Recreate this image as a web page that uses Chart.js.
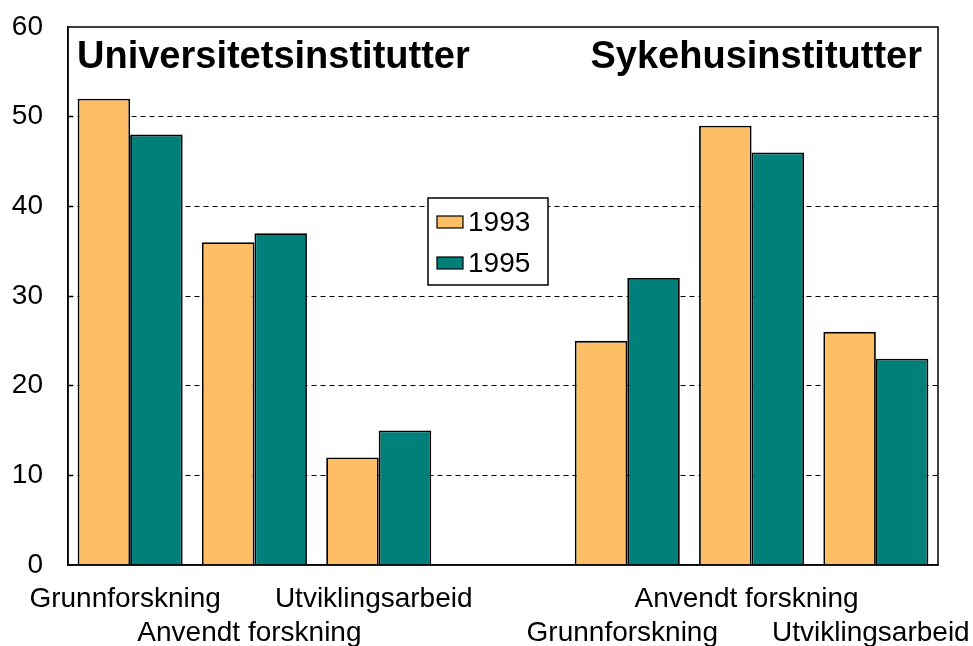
<!DOCTYPE html>
<html lang="no">
<head>
    <meta charset="UTF-8">
    <title>Universitets- og sykehusinstitutter</title>
    <script src="https://cdn.jsdelivr.net/npm/chart.js"></script>
    <style>
        body { margin: 0; background: #fff; }
    </style>
</head>
<body>
    <canvas id="dataChart" width="973" height="646"></canvas>

    <script>
        // categories (slot 4 is the empty gap between the two groups)
        const categories = ['Grunnforskning', 'Anvendt forskning', 'Utviklingsarbeid', '',
                            'Grunnforskning', 'Anvendt forskning', 'Utviklingsarbeid'];
        // which label row each category name sits on (0 = top, 1 = bottom)
        const labelRow = [0, 1, 0, 0, 1, 0, 1];
        const values1993 = [52, 36, 12, null, 25, 49, 26];
        const values1995 = [48, 37, 15, null, 32, 46, 23];
        const seriesNames = ['1993', '1995'];
        const yTicks = [0, 10, 20, 30, 40, 50, 60];
        const panelTitles = ['Universitetsinstitutter', 'Sykehusinstitutter'];

        const FONT = '"Liberation Sans", Arial, sans-serif';
        const ORANGE = '#FDBE66';
        const TEAL = '#007F7B';

        const labels = categories.map((c, i) => labelRow[i] === 0 ? [c, ''] : ['', c]);

        // frame, panel titles and the legend box
        const extras = {
            id: 'extras',
            afterDraw(chart) {
                const { ctx, chartArea: a } = chart;
                ctx.save();
                ctx.strokeStyle = '#000';
                ctx.lineWidth = 1.5;
                ctx.strokeRect(a.left, a.top, a.right - a.left, a.bottom - a.top);

                ctx.fillStyle = '#000';
                ctx.font = 'bold 38px ' + FONT;
                ctx.textBaseline = 'alphabetic';
                ctx.textAlign = 'left';
                ctx.fillText(panelTitles[0], a.left + 9, a.top + 41);
                ctx.textAlign = 'right';
                ctx.fillText(panelTitles[1], a.right - 16, a.top + 41);

                // legend
                const lx = a.left + 360, ly = a.top + 171;
                ctx.fillStyle = '#fff';
                ctx.fillRect(lx, ly, 120, 87);
                ctx.lineWidth = 1.5;
                ctx.strokeRect(lx, ly, 120, 87);
                ctx.font = '28px ' + FONT;
                ctx.textAlign = 'left';
                ctx.textBaseline = 'middle';
                chart.data.datasets.forEach((ds, i) => {
                    const cy = ly + 24 + i * 41;
                    ctx.fillStyle = ds.backgroundColor;
                    ctx.fillRect(lx + 9, cy - 6, 26, 12);
                    ctx.strokeStyle = '#000';
                    ctx.lineWidth = 1.2;
                    ctx.strokeRect(lx + 9, cy - 6, 26, 12);
                    ctx.fillStyle = '#000';
                    ctx.fillText(ds.label, lx + 40, cy + 1);
                });
                ctx.restore();
            }
        };

        const ctx = document.getElementById('dataChart').getContext('2d');
        new Chart(ctx, {
            type: 'bar',
            data: {
                labels: labels,
                datasets: [
                    {
                        label: seriesNames[0],
                        data: values1993,
                        backgroundColor: ORANGE,
                        borderColor: '#000',
                        borderWidth: 1.8,
                        borderSkipped: 'bottom'
                    },
                    {
                        label: seriesNames[1],
                        data: values1995,
                        backgroundColor: TEAL,
                        borderColor: '#000',
                        borderWidth: 1.8,
                        borderSkipped: 'bottom'
                    }
                ]
            },
            options: {
                responsive: false,
                animation: false,
                layout: { padding: { top: 27, right: 35, left: 0, bottom: 0 } },
                categoryPercentage: 0.845,
                barPercentage: 1.0,
                plugins: {
                    legend: { display: false },
                    tooltip: { enabled: false }
                },
                scales: {
                    x: {
                        grid: { display: false },
                        border: { color: '#000', width: 1.5 },
                        ticks: {
                            color: '#000',
                            font: { family: FONT, size: 28, lineHeight: 1.22 },
                            autoSkip: false,
                            maxRotation: 0,
                            minRotation: 0,
                            padding: 9,
                            labelOffset: -5
                        },
                        afterFit(scale) {
                            scale.height = 81;
                            scale.paddingLeft = 0;
                            scale.paddingRight = 0;
                        }
                    },
                    y: {
                        min: 0,
                        max: 60,
                        afterBuildTicks(scale) {
                            scale.ticks = yTicks.map(v => ({ value: v }));
                        },
                        grid: {
                            color: c => (c.tick.value === 0 || c.tick.value === 60) ? 'rgba(0,0,0,0)' : '#000',
                            lineWidth: 1,
                            tickLength: -5,
                            tickWidth: 1.5
                        },
                        border: { color: '#000', width: 1.5, dash: [5, 4] },
                        ticks: {
                            color: '#000',
                            font: { family: FONT, size: 28 },
                            padding: 30
                        },
                        afterFit(scale) {
                            scale.width = 68;
                            scale.paddingTop = 0;
                            scale.paddingBottom = 0;
                        }
                    }
                }
            },
            plugins: [extras]
        });
    </script>
</body>
</html>
